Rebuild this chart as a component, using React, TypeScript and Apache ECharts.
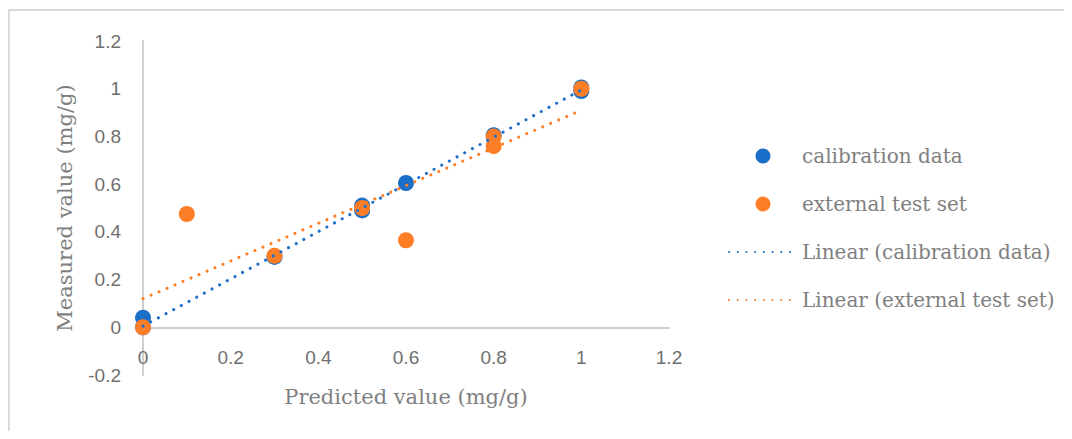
import React, { useEffect, useRef } from "react";
import * as echarts from "echarts";

const calibrationData: [number, number][] = [
  [0, 0.04], [0, 0], [0.3, 0.295], [0.5, 0.51], [0.5, 0.49],
  [0.6, 0.605], [0.8, 0.805], [1, 1.005], [1, 0.99],
];
const externalData: [number, number][] = [
  [0, 0], [0.1, 0.475], [0.3, 0.3], [0.5, 0.5], [0.6, 0.365],
  [0.8, 0.8], [0.8, 0.76], [1, 1],
];
const calibrationTrend: [number, number][] = [[0, 0.005], [1, 0.995]];
const externalTrend: [number, number][] = [[0, 0.12], [1, 0.91]];

const seriesNames = [
  "calibration data",
  "external test set",
  "Linear (calibration data)",
  "Linear (external test set)",
];
const xAxisName = "Predicted value (mg/g)";
const yAxisName = "Measured value (mg/g)";

const BLUE = "#1b6fc9";
const ORANGE = "#fd7e26";
const SERIF = "'DejaVu Serif', serif";
const SANS = "'Liberation Sans', Arial, sans-serif";

export default function App() {
  const ref = useRef<HTMLDivElement>(null);
  useEffect(() => {
    if (!ref.current) return;
    const chart = echarts.init(ref.current, undefined, { renderer: "svg" });
    const dotted = [0.1, 8.6];
    const W = 1064;
    const H = 423;
    const gridTop = 33;
    const gridBottom = 56;
    const plotH = H - gridTop - gridBottom;
    const zeroOffset = -(plotH * 0.2) / 1.4;
    const borderStyle = { stroke: "#d9d9d9", lineWidth: 2 };
    chart.setOption({
      animation: false,
      graphic: [
        { type: "line", shape: { x1: 0, y1: 2, x2: W, y2: 2 }, style: borderStyle, silent: true },
        { type: "line", shape: { x1: 0.8, y1: 1, x2: 0.8, y2: H }, style: borderStyle, silent: true },
      ],
      grid: { left: 135, right: 403, top: gridTop, bottom: gridBottom, outerBoundsMode: "none", containLabel: false },
      xAxis: {
        type: "value",
        min: 0,
        max: 1.2,
        interval: 0.2,
        offset: zeroOffset,
        name: xAxisName,
        nameLocation: "middle",
        nameGap: 59,
        nameTextStyle: { fontFamily: SERIF, fontSize: 21, color: "#7f7f7f" },
        axisLine: { onZero: false, lineStyle: { color: "#cfcfcf", width: 2 } },
        axisTick: { show: false },
        splitLine: { show: false },
        axisLabel: { fontFamily: SANS, fontSize: 19, color: "#6f6f6f", margin: 21 },
      },
      yAxis: {
        type: "value",
        min: -0.2,
        max: 1.2,
        interval: 0.2,
        name: yAxisName,
        nameLocation: "middle",
        nameGap: 68,
        nameTextStyle: { fontFamily: SERIF, fontSize: 21, color: "#7f7f7f" },
        axisLine: { show: true, onZero: false, lineStyle: { color: "#cfcfcf", width: 2 } },
        axisTick: { show: false },
        splitLine: { show: false },
        axisLabel: { fontFamily: SANS, fontSize: 19, color: "#6f6f6f", margin: 22 },
      },
      legend: {
        orient: "vertical",
        left: 715,
        top: 131,
        padding: 5,
        itemWidth: 68,
        itemHeight: 15,
        itemGap: 24,
        textStyle: { fontFamily: SERIF, fontSize: 20, color: "#7f7f7f", lineHeight: 24 },
        data: [
          { name: seriesNames[0] },
          { name: seriesNames[1] },
          { name: seriesNames[2], itemStyle: { opacity: 0 } },
          { name: seriesNames[3], itemStyle: { opacity: 0 } },
        ],
      },
      series: [
        {
          name: seriesNames[0],
          type: "scatter",
          data: calibrationData,
          symbol: "circle",
          symbolSize: 16,
          itemStyle: { color: BLUE, opacity: 1 },
        },
        {
          name: seriesNames[1],
          type: "scatter",
          data: externalData,
          symbol: "circle",
          symbolSize: 16,
          itemStyle: { color: ORANGE, opacity: 1 },
        },
        {
          name: seriesNames[2],
          type: "line",
          data: calibrationTrend,
          showSymbol: false,
          symbol: "none",
          itemStyle: { color: BLUE, opacity: 0 },
          lineStyle: { color: BLUE, width: 3, type: dotted, cap: "round", opacity: 1 },
        },
        {
          name: seriesNames[3],
          type: "line",
          data: externalTrend,
          showSymbol: false,
          symbol: "none",
          itemStyle: { color: ORANGE, opacity: 0 },
          lineStyle: { color: ORANGE, width: 3, type: dotted, cap: "round", opacity: 1 },
        },
      ],
    });
    return () => chart.dispose();
  }, []);
  return <div ref={ref} style={{ width: 1064, height: 423 }} />;
}
